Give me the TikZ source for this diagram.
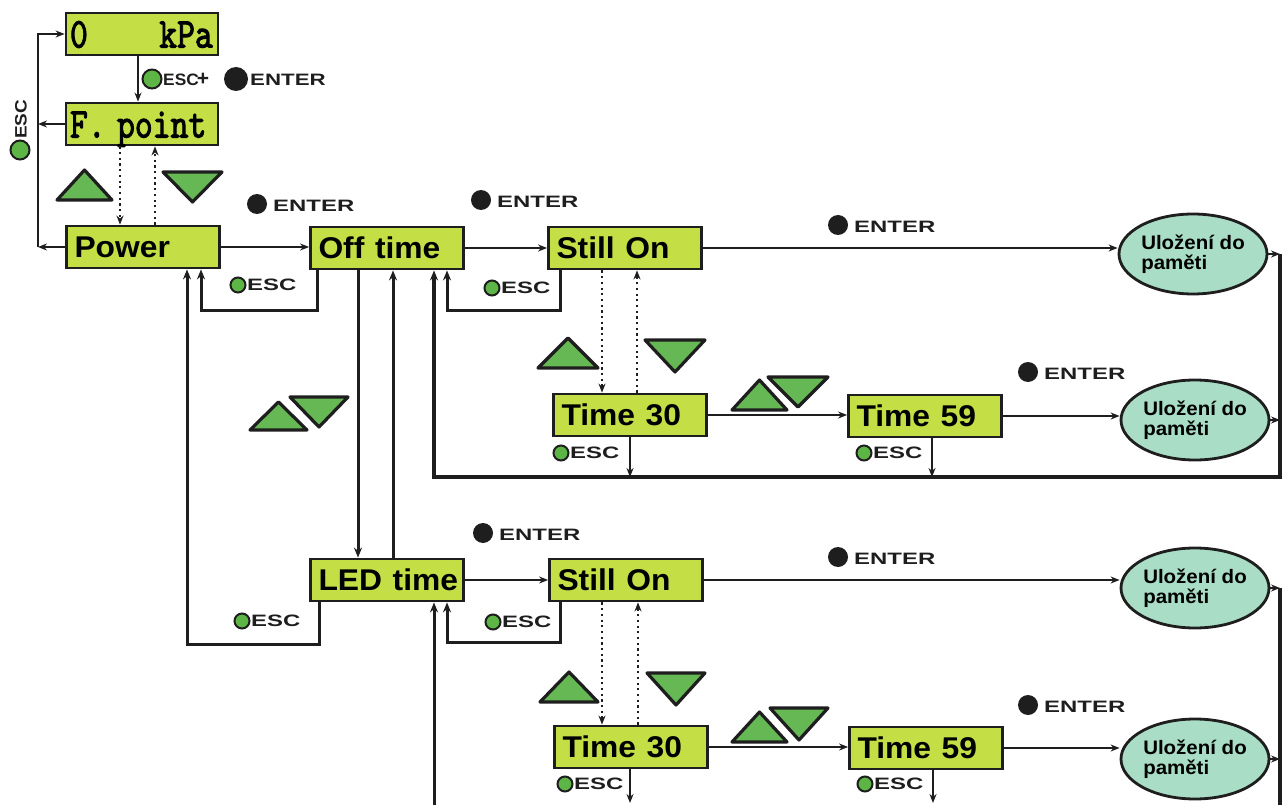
\documentclass[tikz,border=0pt]{standalone}
\usepackage{fontspec}
\setmainfont{Liberation Sans}
\newfontfamily\lcdfont{lmmono10-regular.otf}[FakeBold=2.5]
\usetikzlibrary{arrows.meta,shapes.geometric}
\definecolor{boxfill}{HTML}{C3DF45}
\definecolor{ellfill}{HTML}{A9DDC5}
\definecolor{btngreen}{HTML}{5DB546}
\definecolor{trigreen}{HTML}{66B854}
\definecolor{ink}{HTML}{1E1E1E}
\newcommand\lblwide[1]{\scalebox{1.45}[1]{#1}}
\newcommand\boxtxt[1]{\scalebox{1.06}[1]{#1}}
\newcommand\storetxt{\scalebox{1.05}[1]{Uložení do}\\\scalebox{1.05}[1]{paměti}}
\newcommand\escmark[3]{%
  \node[gbtn] (#1c) at (#2,#3) {};
  \node[lbl, anchor=west] (#1t) at ([xshift=9pt]#1c.center) {\lblwide{ESC}};}
\newcommand\entermark[3]{%
  \node[kbtn] (#1c) at (#2,#3) {};
  \node[lbl, anchor=west] (#1t) at ([xshift=16pt,yshift=-2pt]#1c.center) {\lblwide{ENTER}};}
\begin{document}
\begin{tikzpicture}[x=1pt,y=-1pt,
  box/.style={draw=ink, line width=2.8pt, fill=boxfill, minimum height=42pt, text width=137pt,
    inner xsep=8pt, inner ysep=0pt, align=left, text height=21pt, text depth=0pt,
    font=\fontsize{30}{30}\selectfont\bfseries},
  lcd/.style={box, text width=144pt, inner xsep=4pt, text height=27pt,
    font=\fontsize{34}{34}\selectfont\lcdfont},
  store/.style={ellipse, draw=ink, line width=2.8pt, fill=ellfill, minimum width=148pt,
    minimum height=80pt, inner sep=0pt, align=left, font=\fontsize{19.5}{20}\selectfont\bfseries},
  arr/.style={draw=ink, line width=1.6pt, -{Stealth[length=9pt,width=7pt]}},
  thk/.style={draw=ink, line width=3pt},
  thkarr/.style={thk, -{Stealth[length=10pt,width=8pt]}},
  dotarr/.style={draw=ink, line width=2.2pt, dash pattern=on 2.2pt off 3.5pt, -{Stealth[length=9pt,width=7pt]}},
  gbtn/.style={circle, draw=ink, line width=2pt, fill=btngreen, minimum size=15pt, inner sep=0pt},
  kbtn/.style={circle, fill=ink, minimum size=20pt, inner sep=0pt},
  lbl/.style={inner sep=0pt, font=\fontsize{16.5}{16.5}\selectfont\bfseries, text=ink},
  tri/.style={draw=ink, line width=3.2pt, line join=round, fill=trigreen}]
\useasboundingbox (0,0) rectangle (1288,805);
\coordinate (rail) at (1280,0);
\coordinate (lrail) at (38,0);
\coordinate (bline) at (0,477);
\coordinate (bot) at (0,805);
\coordinate (botarr) at (0,803);
% boxes
\node[lcd] (kpa) at (142,34) {\scalebox{1}[1.25]{0\phantom{0000}kPa}};
\node[lcd] (fpt) at (142,124) {\scalebox{1}[1.25]{F. point}};
\node[box] (power) at (143,247) {\boxtxt{Power}};
\node[box] (off) at (387,248) {\boxtxt{Off time}};
\node[box] (still1) at (625,248) {\boxtxt{Still On}};
\node[box] (t30a) at (630,415) {\boxtxt{Time 30}};
\node[box] (t59a) at (925,416) {\boxtxt{Time 59}};
\node[box] (led) at (387,580) {\boxtxt{LED time}};
\node[box] (still2) at (626,580) {\boxtxt{Still On}};
\node[box] (t30b) at (631,747) {\boxtxt{Time 30}};
\node[box] (t59b) at (926,748) {\boxtxt{Time 59}};
\node[store] (e1) at (1193,254) {\storetxt};
\node[store] (e2) at (1195,420) {\storetxt};
\node[store] (e3) at (1195,588) {\storetxt};
\node[store] (e4) at (1195,759) {\storetxt};
% triangles
\draw[tri] (57,200) -- (112,200) -- (84.5,170) -- cycle;
\draw[tri] (163,172) -- (222,172) -- (192.5,202) -- cycle;
\draw[tri] (250,430) -- (307,430) -- (278.5,402) -- cycle;
\draw[tri] (290,397) -- (348,397) -- (319,427) -- cycle;
\draw[tri] (538,368) -- (598,368) -- (568,338) -- cycle;
\draw[tri] (645,340) -- (705,340) -- (675,372) -- cycle;
\draw[tri] (732,410) -- (787,410) -- (759.5,380) -- cycle;
\draw[tri] (768,377) -- (828,377) -- (798,407) -- cycle;
\draw[tri] (540,702) -- (598,702) -- (569,672) -- cycle;
\draw[tri] (647,673) -- (705,673) -- (676,705) -- cycle;
\draw[tri] (732,742) -- (787,742) -- (759.5,712) -- cycle;
\draw[tri] (770,708) -- (828,708) -- (799,740) -- cycle;
% top-left
\draw[arr] ([xshift=-4pt]kpa.south) -- ([xshift=-4pt]fpt.north);
\draw[arr] (fpt.west) -- (fpt.west -| lrail);
\draw[arr] (power.west) -- (power.west -| lrail);
\draw[arr] (power.west -| lrail) -- (kpa.west -| lrail) -- (kpa.west);
\draw[dotarr] ([xshift=-22pt]fpt.south) -- ([xshift=-22pt]fpt.south |- power.north);
\draw[dotarr] ([xshift=13pt]fpt.south |- power.north) -- ([xshift=13pt]fpt.south);
% top row
\draw[arr] (power.east) -- (power.east -| off.west);
\draw[arr] (off.east) -- (off.east -| still1.west);
\draw[arr] (still1.east) -- (still1.east -| e1.west);
\draw[thkarr] ([xshift=-70pt]off.south) -- ++(0,40) -| ([xshift=58pt]power.south);
\draw[thkarr] ([xshift=-68pt]led.south) -- ++(0,42) -| ([xshift=44pt]power.south);
\draw[thkarr] ([xshift=-29pt]off.south) -- ([xshift=-29pt]off.south |- led.north);
\draw[thkarr] ([xshift=6pt]off.south |- led.north) -- ([xshift=6pt]off.south);
\draw[thkarr] ([xshift=-65pt]still1.south) -- ++(0,40) -| ([xshift=60pt]off.south);
\draw[arr] (e1.east) -- (e1.east -| rail);
\draw[thkarr, line width=3.5pt] (e1.east -| rail) -- (rail |- bline) -| ([xshift=47pt]off.south);
\draw[arr] (e2.east) -- (e2.east -| rail);
\draw[dotarr] ([xshift=-23pt]still1.south) -- ([xshift=-23pt]still1.south |- t30a.north);
\draw[dotarr] ([xshift=12pt]still1.south |- t30a.north) -- ([xshift=12pt]still1.south);
\draw[arr] (t30a.east) -- (t30a.east -| t59a.west);
\draw[arr] (t59a.east) -- (t59a.east -| e2.west);
\draw[arr, line width=2pt] (t30a.south) -- (t30a.south |- bline);
\draw[arr, line width=2pt] ([xshift=7pt]t59a.south) -- ([xshift=7pt]t59a.south |- bline);
% bottom row
\draw[arr] (led.east) -- (led.east -| still2.west);
\draw[thkarr] ([xshift=-66pt]still2.south) -- ++(0,40) -| ([xshift=60pt]led.south);
\draw[thkarr] ([xshift=47pt]led.south |- bot) -- ([xshift=47pt]led.south);
\draw[arr] (still2.east) -- (still2.east -| e3.west);
\draw[thk, line width=3.5pt] (e3.east -| rail) -- (rail |- bot);
\draw[arr] (e3.east) -- (e3.east -| rail);
\draw[arr] (e4.east) -- (e4.east -| rail);
\draw[dotarr] ([xshift=-24pt]still2.south) -- ([xshift=-24pt]still2.south |- t30b.north);
\draw[dotarr] ([xshift=12pt]still2.south |- t30b.north) -- ([xshift=12pt]still2.south);
\draw[arr] (t30b.east) -- (t30b.east -| t59b.west);
\draw[arr] (t59b.east) -- (t59b.east -| e4.west);
\draw[arr, line width=2pt] ([xshift=-1pt]t30b.south) -- ([xshift=-1pt]t30b.south |- botarr);
\draw[arr, line width=2pt] ([xshift=7pt]t59b.south) -- ([xshift=7pt]t59b.south |- botarr);
% labels
\node[gbtn, minimum size=19pt] (kec1) at (152,79) {};
\node[lbl, anchor=west] (ket1) at (163,80) {\scalebox{1.05}[1]{ESC}};
\node[lbl, anchor=center, font=\fontsize{21}{21}\selectfont\bfseries] (kep) at (203,79) {+};
\node[kbtn, minimum size=24pt] (kec2) at (236,79) {};
\node[lbl, anchor=west] (ket2) at (250,80) {\scalebox{1.35}[1]{ENTER}};
\node[gbtn, minimum size=19pt] (lec) at (20,150) {};
\node[lbl, rotate=90, anchor=west] (let) at (21,139) {\scalebox{1.15}[1]{ESC}};
\entermark{ea}{257}{204}
\entermark{eb}{481}{200}
\entermark{ec}{838}{225}
\entermark{ed}{1028}{372}
\entermark{ee}{483}{533}
\entermark{ef}{838}{557}
\entermark{eg}{1028}{705}
\escmark{sa}{238}{285}
\escmark{sb}{492}{288}
\escmark{sc}{561}{453}
\escmark{sd}{864}{453}
\escmark{se}{242}{621}
\escmark{sf}{493}{622}
\escmark{sg}{565}{784}
\escmark{sh}{865}{784}
\end{tikzpicture}
\end{document}
